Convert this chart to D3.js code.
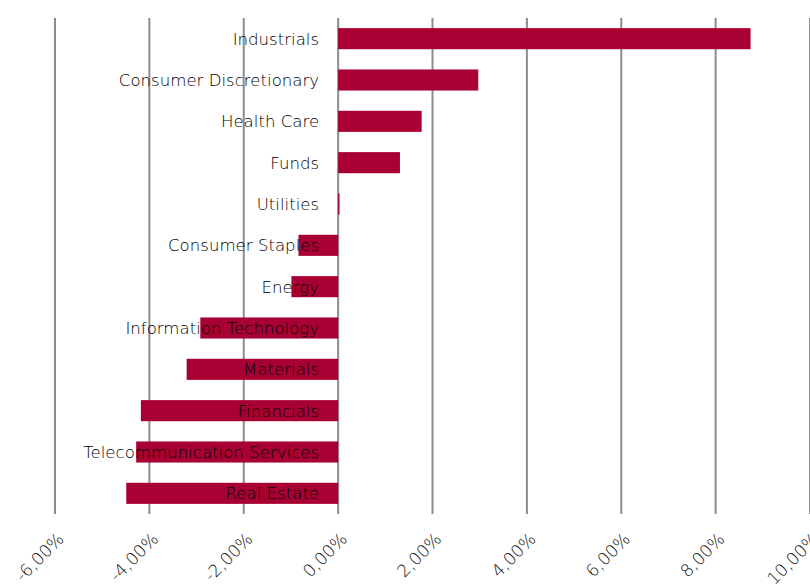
<!DOCTYPE html>
<meta charset="utf-8">
<style>
    body { margin: 0; background: #fff; }
    svg { background-color: #fff; }
    .lbl { font-family: "DejaVu Sans", sans-serif; font-weight: 200; font-size: 16.6px; fill: #000; }
    .tick-lbl { font-family: "DejaVu Sans", sans-serif; font-weight: 200; font-size: 17px; fill: #111; }
</style>
<body>
<svg width="810" height="585"></svg>
<script src="https://d3js.org/d3.v7.min.js"></script>
<script>
    // sectors, top to bottom
    var sectors = ["Industrials", "Consumer Discretionary", "Health Care", "Funds", "Utilities",
        "Consumer Staples", "Energy", "Information Technology", "Materials", "Financials",
        "Telecommunication Services", "Real Estate"];
    // return, in %
    var returns = [8.74, 2.97, 1.77, 1.31, 0.03, -0.84, -0.99, -2.92, -3.21, -4.18, -4.28, -4.49];
    var tickValues = [-6, -4, -2, 0, 2, 4, 6, 8, 10];

    var svg = d3.select("svg");

    var x = d3.scaleLinear().domain([-6, 10]).range([55, 810]);
    var y = d3.scaleBand().domain(sectors).range([18, 514])
        .paddingInner(0.49).paddingOuter(0.245);

    var data = sectors.map(function (s, i) { return { name: s, value: returns[i] }; });

    // grid lines
    svg.append("g").selectAll("line")
        .data(tickValues)
        .enter().append("line")
        .attr("x1", function (d) { return x(d); })
        .attr("x2", function (d) { return x(d); })
        .attr("y1", 18)
        .attr("y2", 514)
        .attr("stroke", "#8c8c8c")
        .attr("stroke-width", 2);

    // bars
    svg.append("g").selectAll("rect")
        .data(data)
        .enter().append("rect")
        .attr("x", function (d) { return x(Math.min(0, d.value)); })
        .attr("width", function (d) { return Math.abs(x(d.value) - x(0)); })
        .attr("y", function (d) { return y(d.name); })
        .attr("height", y.bandwidth())
        .attr("fill", "#a80033");

    // category labels, drawn over the bars
    svg.append("g").selectAll("text")
        .data(data)
        .enter().append("text")
        .attr("class", "lbl")
        .attr("x", x(0) - 19)
        .attr("y", function (d) { return y(d.name) + y.bandwidth() / 2; })
        .attr("dy", "0.36em")
        .attr("text-anchor", "end")
        .text(function (d) { return d.name; });

    // rotated tick labels
    var fmt = function (v) { return v.toFixed(2).replace(".", ",") + "%"; };
    svg.append("g").selectAll("text")
        .data(tickValues)
        .enter().append("text")
        .attr("class", "tick-lbl")
        .attr("text-anchor", "end")
        .attr("transform", function (d) { return "translate(" + (x(d) + 1) + ",531) rotate(-45)"; })
        .attr("dy", "0.75em")
        .text(fmt);
</script>
</body>
